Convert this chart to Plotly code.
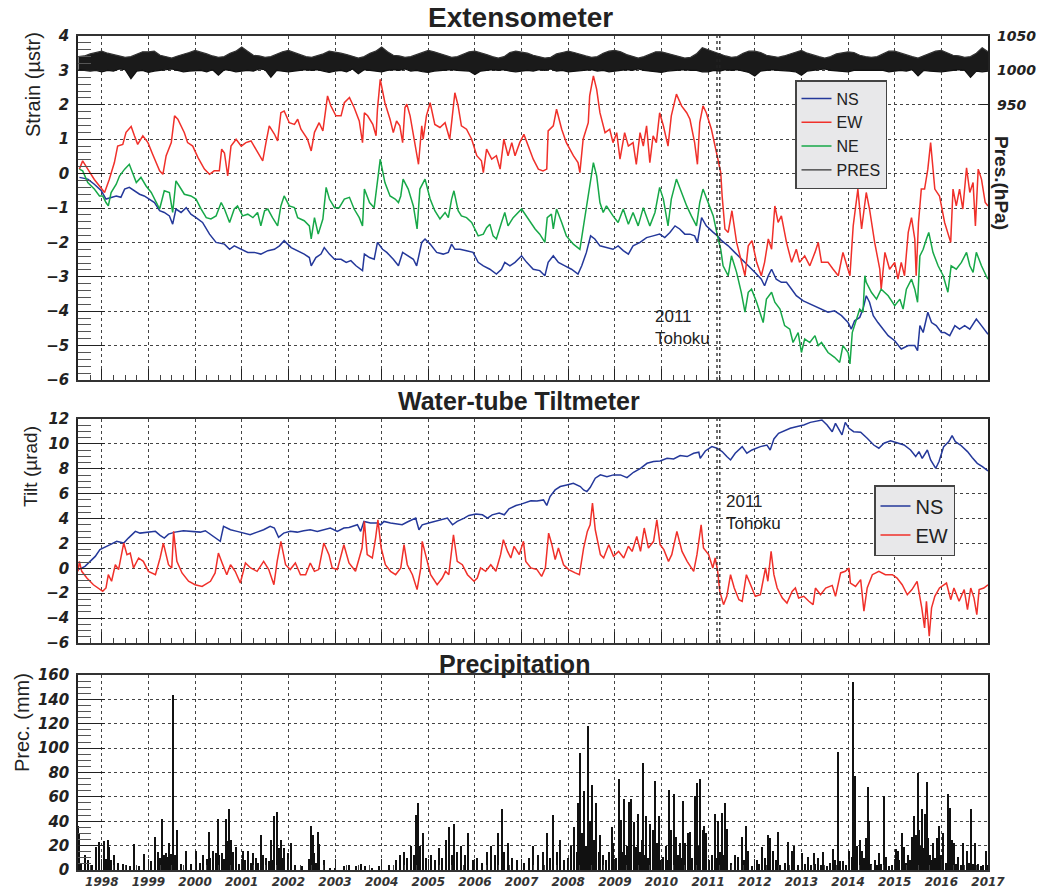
import plotly.graph_objects as go

# ---------------- data (decimal year, value) ----------------
EXT_NS = [(1997.52,-0.11),(1997.70,-0.16),(1997.84,-0.31),(1997.99,-0.50),(1998.09,-0.74),(1998.20,-0.69),
(1998.31,-0.65),(1998.41,-0.69),(1998.49,-0.45),(1998.59,-0.40),(1998.70,-0.50),(1998.81,-0.60),(1998.91,-0.65),
(1999.02,-0.74),(1999.13,-0.84),(1999.24,-1.08),(1999.34,-1.13),(1999.45,-1.23),(1999.52,-1.47),(1999.59,-1.03),
(1999.70,-1.13),(1999.81,-0.99),(1999.91,-1.18),(2000.02,-1.28),(2000.16,-1.42),(2000.31,-1.76),(2000.45,-2.00),
(2000.63,-2.05),(2000.74,-2.20),(2000.84,-2.10),(2000.99,-2.20),(2001.13,-2.29),(2001.27,-2.29),(2001.41,-2.34),
(2001.56,-2.24),(2001.70,-2.20),(2001.81,-2.10),(2001.91,-1.95),(2002.06,-2.15),(2002.20,-2.24),(2002.34,-2.34),
(2002.45,-2.44),(2002.49,-2.68),(2002.59,-2.44),(2002.70,-2.34),(2002.77,-2.15),(2002.88,-2.34),(2002.99,-2.49),
(2003.13,-2.49),(2003.24,-2.58),(2003.34,-2.53),(2003.45,-2.68),(2003.59,-2.82),(2003.63,-2.34),(2003.74,-2.44),
(2003.84,-2.49),(2003.91,-2.00),(2004.02,-2.20),(2004.11,-2.29),(2004.25,-2.49),(2004.36,-2.68),(2004.45,-2.29),
(2004.57,-2.39),(2004.68,-2.49),(2004.75,-2.68),(2004.86,-2.00),(2004.93,-1.90),(2005.04,-2.05),(2005.18,-2.29),
(2005.32,-2.34),(2005.43,-2.29),(2005.50,-2.05),(2005.57,-2.20),(2005.68,-2.20),(2005.82,-2.24),(2005.96,-2.29),
(2006.07,-2.58),(2006.18,-2.68),(2006.32,-2.78),(2006.46,-2.92),(2006.57,-2.78),(2006.64,-2.58),(2006.75,-2.68),
(2006.86,-2.58),(2007.00,-2.39),(2007.11,-2.58),(2007.25,-2.78),(2007.39,-2.82),(2007.50,-2.97),(2007.57,-2.58),
(2007.68,-2.39),(2007.79,-2.58),(2007.93,-2.68),(2008.07,-2.78),(2008.21,-2.92),(2008.29,-2.68),(2008.39,-2.29),
(2008.48,-1.81),(2008.57,-1.90),(2008.68,-2.10),(2008.82,-2.15),(2008.96,-2.20),(2009.07,-2.10),(2009.18,-2.24),
(2009.29,-2.34),(2009.39,-2.10),(2009.54,-2.00),(2009.68,-1.86),(2009.82,-1.81),(2009.96,-1.76),(2010.07,-1.86),
(2010.18,-1.71),(2010.29,-1.52),(2010.39,-1.61),(2010.50,-1.76),(2010.61,-1.76),(2010.71,-1.81),(2010.77,-2.00),
(2010.86,-1.28),(2010.96,-1.52),(2011.11,-1.71),(2011.20,-1.81),(2011.29,-1.95),(2011.43,-2.10),(2011.57,-2.29),
(2011.71,-2.49),(2011.86,-2.68),(2012.00,-2.87),(2012.14,-3.07),(2012.21,-3.26),(2012.29,-2.97),(2012.36,-2.78),
(2012.46,-3.07),(2012.57,-3.16),(2012.68,-3.16),(2012.79,-3.36),(2012.89,-3.55),(2013.04,-3.70),(2013.18,-3.79),
(2013.29,-3.84),(2013.43,-3.94),(2013.57,-4.03),(2013.71,-3.99),(2013.86,-4.13),(2014.00,-4.33),(2014.07,-4.52),
(2014.14,-4.28),(2014.25,-4.18),(2014.32,-3.94),(2014.39,-3.55),(2014.46,-3.74),(2014.54,-4.13),(2014.64,-4.33),
(2014.75,-4.52),(2014.86,-4.71),(2015.00,-4.86),(2015.14,-5.10),(2015.29,-5.00),(2015.43,-5.00),(2015.49,-5.15),
(2015.54,-4.42),(2015.61,-4.62),(2015.71,-4.03),(2015.79,-4.33),(2015.89,-4.42),(2016.00,-4.62),(2016.07,-4.62),
(2016.18,-4.71),(2016.29,-4.42),(2016.39,-4.52),(2016.50,-4.42),(2016.61,-4.52),(2016.75,-4.23),(2016.86,-4.42),
(2016.96,-4.62),(2017.00,-4.67)]

EXT_EW = [(1997.52,0.13),(1997.59,0.37),(1997.70,0.13),(1997.84,-0.17),(1997.95,-0.36),(1998.06,-0.55),(1998.16,-0.17),
(1998.27,0.32),(1998.34,0.80),(1998.45,0.85),(1998.52,1.20),(1998.63,1.37),(1998.70,1.10),(1998.77,0.85),(1998.88,1.10),
(1998.99,0.90),(1999.09,0.56),(1999.24,0.08),(1999.31,-0.02),(1999.38,0.52),(1999.49,0.90),(1999.56,1.68),(1999.63,1.58),
(1999.77,1.19),(1999.84,0.90),(1999.95,0.80),(2000.06,0.47),(2000.20,0.13),(2000.31,-0.02),(2000.41,0.08),(2000.52,0.08),
(2000.57,0.71),(2000.63,0.60),(2000.70,-0.07),(2000.77,0.80),(2000.88,1.00),(2000.99,0.80),(2001.09,0.90),(2001.20,0.95),
(2001.34,0.60),(2001.45,0.37),(2001.52,0.90),(2001.59,1.39),(2001.70,1.15),(2001.77,0.95),(2001.84,1.77),(2001.91,1.82),
(2002.02,1.48),(2002.13,1.43),(2002.20,1.58),(2002.27,1.29),(2002.41,1.00),(2002.49,0.66),(2002.56,1.20),(2002.66,1.48),
(2002.74,1.24),(2002.81,1.87),(2002.84,2.26),(2002.91,1.97),(2003.02,1.68),(2003.13,1.68),(2003.20,2.06),(2003.31,2.21),
(2003.41,1.92),(2003.52,1.53),(2003.59,0.90),(2003.63,1.77),(2003.70,1.68),(2003.81,1.43),(2003.88,1.10),(2003.91,1.87),
(2003.97,2.74),(2004.07,2.06),(2004.18,1.58),(2004.25,1.19),(2004.32,1.53),(2004.39,1.39),(2004.45,0.90),(2004.50,1.92),
(2004.54,2.02),(2004.61,1.68),(2004.71,0.90),(2004.79,0.27),(2004.86,1.39),(2004.89,1.00),(2004.96,1.68),(2005.04,2.06),
(2005.14,1.43),(2005.25,1.34),(2005.36,1.48),(2005.46,1.00),(2005.50,1.48),(2005.57,2.35),(2005.64,1.97),(2005.71,1.39),
(2005.82,1.29),(2005.93,1.00),(2006.04,0.52),(2006.14,0.37),(2006.18,0.03),(2006.25,0.71),(2006.36,0.42),(2006.46,0.52),
(2006.54,0.13),(2006.62,1.00),(2006.71,0.52),(2006.79,0.90),(2006.86,0.52),(2006.96,0.90),(2007.05,1.14),(2007.14,0.80),
(2007.25,0.42),(2007.36,0.13),(2007.46,0.08),(2007.54,0.13),(2007.57,1.24),(2007.68,1.39),(2007.75,1.87),(2007.86,1.29),
(2007.96,0.90),(2008.11,0.52),(2008.21,0.32),(2008.25,0.03),(2008.32,1.00),(2008.43,1.48),(2008.46,2.26),(2008.54,2.84),
(2008.61,2.45),(2008.68,1.77),(2008.79,1.19),(2008.89,1.29),(2008.96,0.90),(2009.04,1.19),(2009.11,0.42),(2009.21,1.19),
(2009.29,0.80),(2009.39,0.90),(2009.46,0.27),(2009.54,1.19),(2009.61,0.80),(2009.68,1.39),(2009.75,0.32),(2009.82,1.10),
(2009.89,0.90),(2009.96,1.77),(2010.04,1.39),(2010.14,0.80),(2010.21,1.68),(2010.32,2.31),(2010.43,1.97),(2010.54,1.77),
(2010.61,1.58),(2010.71,0.90),(2010.77,0.27),(2010.82,1.48),(2010.89,1.97),(2010.96,1.77),(2011.07,1.29),(2011.18,0.60),
(2011.27,0.03),(2011.30,-0.65),(2011.36,-1.61),(2011.43,-1.71),(2011.51,-1.08),(2011.61,-2.00),(2011.71,-2.58),
(2011.79,-2.97),(2011.86,-2.10),(2011.94,-1.95),(2012.04,-2.58),(2012.14,-2.97),(2012.21,-2.58),(2012.29,-1.90),
(2012.36,-2.20),(2012.43,-0.94),(2012.50,-1.42),(2012.57,-1.23),(2012.68,-2.00),(2012.79,-2.58),(2012.89,-2.20),
(2012.96,-2.58),(2013.07,-2.39),(2013.18,-2.68),(2013.29,-2.29),(2013.36,-2.00),(2013.43,-2.58),(2013.57,-2.58),
(2013.68,-2.78),(2013.79,-2.97),(2013.89,-2.29),(2014.00,-2.78),(2014.04,-2.97),(2014.11,-1.52),(2014.18,-0.65),
(2014.21,-0.45),(2014.29,-1.61),(2014.39,-0.55),(2014.46,-1.03),(2014.57,-2.00),(2014.68,-2.78),(2014.71,-3.36),
(2014.79,-2.29),(2014.89,-2.78),(2015.00,-2.58),(2015.07,-3.07),(2015.14,-2.58),(2015.21,-2.97),(2015.29,-1.71),
(2015.36,-1.28),(2015.43,-1.90),(2015.46,-2.97),(2015.51,-1.42),(2015.57,-0.45),(2015.64,-0.45),(2015.71,0.13),
(2015.77,0.90),(2015.86,-0.45),(2015.96,-0.65),(2016.07,-1.42),(2016.20,-2.00),(2016.25,-0.45),(2016.32,-0.94),
(2016.39,-0.45),(2016.46,-1.03),(2016.54,0.17),(2016.61,-0.55),(2016.68,-0.26),(2016.73,-1.52),(2016.79,0.13),
(2016.86,-0.16),(2016.94,-0.84),(2017.00,-0.94)]

EXT_NE = [(1997.52,0.13),(1997.59,0.08),(1997.70,-0.26),(1997.84,-0.45),(1997.95,-0.65),(1998.02,-0.65),(1998.09,-0.84),
(1998.14,-0.94),(1998.20,-0.55),(1998.31,-0.31),(1998.38,-0.07),(1998.49,0.13),(1998.59,0.27),(1998.66,0.03),(1998.74,-0.26),
(1998.84,-0.11),(1998.95,-0.36),(1999.06,-0.55),(1999.16,-0.84),(1999.24,-1.03),(1999.34,-0.50),(1999.45,-0.55),
(1999.52,-1.13),(1999.59,-0.21),(1999.66,-0.36),(1999.77,-0.60),(1999.91,-0.65),(2000.02,-0.74),(2000.13,-1.03),
(2000.24,-1.28),(2000.34,-1.32),(2000.45,-1.23),(2000.56,-0.84),(2000.63,-1.03),(2000.74,-1.42),(2000.84,-1.03),
(2000.91,-0.94),(2001.02,-1.23),(2001.13,-1.18),(2001.24,-1.28),(2001.34,-1.13),(2001.41,-1.52),(2001.49,-1.08),
(2001.56,-1.03),(2001.66,-1.28),(2001.77,-1.52),(2001.84,-0.94),(2001.91,-0.65),(2002.02,-0.94),(2002.13,-0.99),
(2002.20,-1.28),(2002.34,-1.37),(2002.45,-1.52),(2002.49,-1.90),(2002.56,-1.28),(2002.64,-1.76),(2002.74,-1.32),
(2002.81,-0.40),(2002.88,-0.74),(2002.99,-0.99),(2003.09,-0.99),(2003.20,-0.74),(2003.31,-0.69),(2003.41,-1.03),
(2003.52,-1.28),(2003.59,-1.52),(2003.63,-0.45),(2003.74,-0.84),(2003.84,-0.99),(2003.91,-0.26),(2003.97,0.42),
(2004.07,-0.26),(2004.18,-0.65),(2004.29,-0.74),(2004.36,-0.84),(2004.41,-0.65),(2004.46,-0.16),(2004.57,-0.45),
(2004.68,-0.94),(2004.76,-1.61),(2004.82,-0.45),(2004.93,-0.16),(2005.04,-0.74),(2005.14,-1.08),(2005.25,-1.32),
(2005.36,-1.13),(2005.43,-1.28),(2005.50,-0.74),(2005.55,-0.50),(2005.64,-1.08),(2005.71,-1.23),(2005.82,-1.28),
(2005.93,-1.42),(2006.07,-1.81),(2006.18,-1.76),(2006.25,-1.57),(2006.32,-1.47),(2006.39,-1.81),(2006.46,-1.90),
(2006.57,-1.42),(2006.64,-1.13),(2006.71,-1.52),(2006.82,-1.28),(2007.00,-1.03),(2007.14,-1.32),(2007.29,-1.61),
(2007.39,-1.76),(2007.50,-2.00),(2007.55,-1.28),(2007.64,-1.18),(2007.68,-1.61),(2007.75,-1.03),(2007.86,-1.42),
(2007.96,-1.81),(2008.11,-2.05),(2008.25,-2.20),(2008.34,-1.42),(2008.43,-0.65),(2008.48,-0.26),(2008.54,0.32),
(2008.61,-0.07),(2008.68,-0.84),(2008.75,-1.13),(2008.82,-0.94),(2008.96,-1.23),(2009.07,-1.42),(2009.18,-1.03),
(2009.29,-1.47),(2009.39,-1.13),(2009.50,-1.52),(2009.61,-0.99),(2009.68,-1.23),(2009.75,-1.52),(2009.86,-1.13),
(2009.96,-0.40),(2010.04,-0.74),(2010.14,-1.52),(2010.21,-0.74),(2010.32,-0.16),(2010.43,-0.55),(2010.54,-0.94),
(2010.64,-1.23),(2010.75,-1.52),(2010.82,-0.84),(2010.89,-0.45),(2011.00,-0.84),(2011.11,-1.23),(2011.20,-1.81),
(2011.27,-2.20),(2011.32,-2.68),(2011.43,-2.97),(2011.50,-2.39),(2011.61,-2.87),(2011.71,-3.45),(2011.79,-4.03),
(2011.86,-3.45),(2011.93,-3.36),(2012.04,-3.74),(2012.18,-4.33),(2012.25,-3.65),(2012.36,-3.45),(2012.43,-3.74),
(2012.54,-3.94),(2012.64,-4.42),(2012.75,-4.52),(2012.82,-4.91),(2012.93,-4.62),(2013.00,-5.20),(2013.07,-4.81),
(2013.18,-4.91),(2013.29,-4.71),(2013.36,-5.00),(2013.43,-4.91),(2013.57,-5.20),(2013.71,-5.34),(2013.82,-5.49),
(2013.89,-5.00),(2014.00,-5.20),(2014.04,-5.53),(2014.09,-4.62),(2014.14,-4.42),(2014.25,-3.94),(2014.32,-4.03),
(2014.36,-2.97),(2014.39,-3.16),(2014.50,-3.45),(2014.61,-3.65),(2014.71,-3.36),(2014.86,-3.55),(2015.00,-3.84),
(2015.11,-3.65),(2015.18,-3.94),(2015.25,-3.36),(2015.36,-3.07),(2015.43,-3.36),(2015.49,-3.74),(2015.54,-2.39),
(2015.61,-2.20),(2015.68,-1.90),(2015.73,-1.71),(2015.82,-2.29),(2015.93,-2.68),(2016.04,-2.97),(2016.14,-3.45),
(2016.21,-2.68),(2016.32,-2.78),(2016.43,-2.58),(2016.54,-2.29),(2016.61,-2.68),(2016.68,-2.87),(2016.75,-2.29),
(2016.86,-2.68),(2016.96,-2.97),(2017.00,-3.07)]

# atmospheric pressure (hPa): upper and lower edge of the daily trace, every 1/8 year from 1997.5
PRES_T = [1997.5,1997.625,1997.75,1997.875] + [y + k/8 for y in range(1998, 2017) for k in range(8)] + [2017.0]
PRES_HI = [1020,1021,1024,1026,
1028,1025,1023,1021,1019,1020,1024,1027, 1027,1028,1022,1020,1018,1021,1023,1026,
1029,1027,1024,1021,1019,1020,1025,1028, 1034,1028,1022,1021,1019,1020,1024,1027,
1029,1026,1023,1020,1019,1021,1024,1028, 1027,1025,1023,1020,1018,1020,1025,1028,
1034,1027,1022,1021,1019,1020,1023,1026, 1029,1027,1024,1021,1019,1020,1024,1027,
1028,1026,1023,1020,1018,1020,1026,1028, 1027,1025,1022,1020,1018,1019,1024,1026,
1028,1026,1023,1021,1019,1020,1025,1028, 1029,1027,1023,1020,1018,1020,1024,1027,
1027,1025,1022,1020,1018,1019,1024,1033, 1030,1027,1023,1021,1019,1020,1025,1028,
1028,1026,1022,1020,1019,1021,1024,1027, 1029,1025,1022,1020,1018,1020,1024,1026,
1027,1026,1022,1020,1019,1020,1024,1028, 1028,1025,1022,1020,1018,1021,1025,1028,
1029,1026,1022,1021,1019,1020,1025,1033, 1027]
PRES_LO = [1001,1000,999,1000,
998,1000,999,1002,1001,988,999,1000, 997,999,1000,1001,1002,1000,998,999,
999,1000,998,1001,993,1001,1000,998, 999,1000,999,1002,1001,990,1000,999,
998,999,1000,1001,1000,1001,999,997, 999,1000,998,1002,995,1001,1000,999,
998,1000,1001,1000,1002,999,1000,998, 997,999,1000,1001,1001,1000,999,999,
994,999,1000,1001,1000,1001,999,998, 999,1000,999,1001,1000,1002,999,1000,
998,999,1000,1001,1001,999,1000,998, 999,1000,1001,1000,1002,1000,999,999,
997,999,1000,1001,1001,1000,1000,998, 998,1000,999,1001,1000,1001,999,997,
992,999,1000,1001,1000,1000,999,998, 993,999,1000,1001,1002,1000,999,999,
998,1000,1000,1001,1000,1001,1000,998, 999,1000,999,1001,992,1000,999,998,
998,999,1000,1001,1000,990,999,998, 999]

TILT_NS = [(1997.50,-0.10),(1997.57,0.03),(1997.64,0.16),(1997.75,0.56),(1997.86,0.96),(1997.96,1.50),(1998.04,1.63),
(1998.18,1.90),(1998.32,2.17),(1998.47,2.03),(1998.57,2.43),(1998.72,2.97),(1998.82,2.83),(1998.97,2.91),(1999.15,2.97),
(1999.25,2.65),(1999.34,2.43),(1999.43,2.75),(1999.57,2.91),(1999.75,3.02),(1999.93,2.97),(2000.11,2.91),(2000.22,3.02),
(2000.40,2.56),(2000.48,2.30),(2000.54,2.17),(2000.61,3.37),(2000.76,3.10),(2000.90,2.97),(2001.04,2.83),(2001.18,2.70),
(2001.33,2.91),(2001.47,3.10),(2001.61,3.37),(2001.70,3.24),(2001.79,2.49),(2001.90,2.83),(2002.04,2.97),(2002.19,2.91),
(2002.33,3.02),(2002.47,3.10),(2002.62,2.97),(2002.76,3.10),(2002.90,3.24),(2003.05,2.97),(2003.19,3.24),(2003.30,3.29),
(2003.48,3.50),(2003.55,2.97),(2003.62,3.77),(2003.76,3.64),(2003.90,3.64),(2003.98,3.50),(2004.05,3.77),(2004.19,3.64),
(2004.34,3.56),(2004.44,3.50),(2004.55,3.72),(2004.66,3.90),(2004.73,4.04),(2004.80,3.10),(2004.87,3.50),(2005.01,3.64),
(2005.15,3.77),(2005.27,3.90),(2005.41,4.04),(2005.52,3.50),(2005.62,3.77),(2005.77,4.04),(2005.87,4.25),(2006.02,4.36),
(2006.16,4.30),(2006.27,4.04),(2006.37,4.30),(2006.52,4.44),(2006.63,4.30),(2006.73,4.78),(2006.88,5.05),(2006.99,5.16),
(2007.10,5.32),(2007.20,5.43),(2007.33,5.42),(2007.47,5.50),(2007.54,5.05),(2007.61,5.77),(2007.72,6.30),(2007.83,6.57),
(2007.97,6.70),(2008.11,6.84),(2008.26,6.57),(2008.33,6.30),(2008.40,6.17),(2008.47,6.49),(2008.58,7.24),(2008.69,7.51),
(2008.83,7.37),(2008.97,7.51),(2009.12,7.51),(2009.26,7.29),(2009.40,7.72),(2009.55,8.04),(2009.69,8.44),(2009.83,8.58),
(2009.97,8.63),(2010.12,8.84),(2010.26,8.79),(2010.40,9.06),(2010.55,8.98),(2010.69,9.25),(2010.80,9.33),(2010.83,8.84),
(2010.94,9.43),(2011.08,9.78),(2011.19,9.65),(2011.30,9.38),(2011.40,8.98),(2011.48,8.71),(2011.58,9.25),(2011.73,9.78),
(2011.83,9.25),(2011.94,9.51),(2012.12,9.78),(2012.26,9.91),(2012.33,9.51),(2012.41,10.40),(2012.51,10.85),(2012.66,11.12),
(2012.76,11.25),(2012.91,11.39),(2013.05,11.52),(2013.19,11.73),(2013.34,11.84),(2013.44,11.92),(2013.55,11.52),
(2013.66,10.98),(2013.73,11.65),(2013.80,11.12),(2013.87,10.72),(2013.94,11.73),(2014.02,11.25),(2014.12,10.98),
(2014.27,10.93),(2014.41,10.45),(2014.55,9.91),(2014.66,9.65),(2014.77,10.05),(2014.91,10.24),(2015.05,10.05),
(2015.20,9.91),(2015.34,9.51),(2015.45,8.98),(2015.52,9.38),(2015.59,8.84),(2015.70,9.51),(2015.77,8.71),(2015.88,8.04),
(2015.95,8.58),(2016.05,9.78),(2016.16,10.18),(2016.23,10.66),(2016.30,10.18),(2016.41,9.91),(2016.56,9.38),(2016.66,8.90),
(2016.77,8.44),(2016.88,8.18),(2017.00,7.83)]

TILT_EW = [(1997.49,-0.24),(1997.52,0.56),(1997.57,-0.24),(1997.68,-0.78),(1997.82,-1.32),(1997.93,-1.58),(1998.02,-1.85),
(1998.09,-1.58),(1998.14,-0.51),(1998.21,-1.04),(1998.29,0.29),(1998.36,-0.10),(1998.47,2.03),(1998.54,1.10),(1998.61,1.23),
(1998.68,0.03),(1998.79,0.83),(1998.89,0.56),(1999.00,-0.24),(1999.15,-0.51),(1999.25,0.83),(1999.32,2.03),(1999.43,0.29),
(1999.50,0.03),(1999.54,2.97),(1999.61,0.56),(1999.72,-0.37),(1999.86,-1.04),(2000.00,-1.32),(2000.15,-1.45),(2000.33,-1.04),
(2000.43,-0.37),(2000.50,1.23),(2000.58,0.43),(2000.68,-0.51),(2000.76,0.29),(2000.86,-0.24),(2000.97,-1.18),(2001.08,0.43),
(2001.19,0.03),(2001.33,-0.24),(2001.47,0.56),(2001.58,-0.10),(2001.69,-1.32),(2001.76,0.56),(2001.84,2.17),(2001.94,0.29),
(2002.04,-0.10),(2002.15,0.43),(2002.26,-0.51),(2002.37,-0.51),(2002.47,0.43),(2002.56,-0.24),(2002.65,-0.10),(2002.76,2.03),
(2002.87,1.10),(2002.94,0.03),(2003.05,-0.10),(2003.19,1.90),(2003.30,0.43),(2003.44,-0.24),(2003.58,1.63),(2003.63,3.77),
(2003.69,1.10),(2003.80,0.83),(2003.87,2.43),(2003.92,3.90),(2003.99,1.63),(2004.08,0.29),(2004.19,-0.24),(2004.30,-0.51),
(2004.41,0.03),(2004.48,1.90),(2004.55,0.29),(2004.66,-0.51),(2004.76,-1.71),(2004.84,0.03),(2004.87,2.17),(2004.94,1.10),
(2005.05,-0.51),(2005.19,-1.32),(2005.30,-0.78),(2005.37,-0.24),(2005.44,-0.51),(2005.54,2.70),(2005.62,0.56),(2005.73,0.29),
(2005.84,-0.51),(2005.98,-1.04),(2006.05,-0.78),(2006.12,0.03),(2006.23,-0.24),(2006.34,0.29),(2006.45,-0.24),(2006.55,1.10),
(2006.61,2.30),(2006.70,1.36),(2006.77,0.83),(2006.84,1.77),(2006.95,1.10),(2007.04,2.17),(2007.09,0.56),(2007.20,0.03),
(2007.33,-0.10),(2007.43,-0.65),(2007.51,0.03),(2007.58,2.83),(2007.65,1.90),(2007.72,0.70),(2007.79,1.63),(2007.90,0.29),
(2008.01,-0.10),(2008.15,-0.37),(2008.24,-0.51),(2008.33,1.63),(2008.41,2.97),(2008.47,3.50),(2008.52,5.24),(2008.58,3.10),
(2008.69,1.10),(2008.76,0.83),(2008.87,1.90),(2008.97,0.97),(2009.08,1.36),(2009.19,0.83),(2009.29,1.77),(2009.37,1.36),
(2009.47,2.56),(2009.55,1.36),(2009.63,3.24),(2009.72,1.63),(2009.83,2.17),(2009.90,3.90),(2009.97,1.90),(2010.05,1.50),
(2010.15,0.56),(2010.22,1.10),(2010.33,2.97),(2010.44,1.36),(2010.55,0.56),(2010.69,-0.24),(2010.76,1.10),(2010.85,3.50),
(2010.90,1.63),(2011.01,1.10),(2011.10,0.03),(2011.15,0.83),(2011.20,-0.10),(2011.25,-1.85),(2011.33,-2.92),(2011.40,-2.25),
(2011.48,-0.51),(2011.56,-1.58),(2011.66,-2.52),(2011.73,-2.65),(2011.82,-0.51),(2011.91,-1.32),(2012.01,-2.25),
(2012.12,-2.12),(2012.23,0.03),(2012.28,-1.04),(2012.35,1.36),(2012.41,-0.51),(2012.48,-1.58),(2012.59,-2.39),
(2012.69,-2.79),(2012.80,-1.85),(2012.87,-1.58),(2012.94,-2.39),(2013.05,-2.25),(2013.16,-2.65),(2013.25,-2.92),
(2013.30,-1.58),(2013.41,-2.12),(2013.52,-1.58),(2013.66,-1.37),(2013.73,-2.25),(2013.84,-0.37),(2013.94,-0.24),
(2014.02,0.03),(2014.05,-1.18),(2014.16,-1.45),(2014.27,-0.91),(2014.34,-3.45),(2014.41,-1.58),(2014.52,-0.51),
(2014.66,-0.24),(2014.80,-0.51),(2014.95,-0.51),(2015.05,-0.78),(2015.16,-1.32),(2015.27,-2.12),(2015.37,-1.71),
(2015.48,-1.04),(2015.58,-3.18),(2015.64,-4.79),(2015.68,-2.65),(2015.74,-5.46),(2015.79,-3.18),(2015.86,-2.25),
(2015.96,-1.58),(2016.11,-1.18),(2016.20,-2.52),(2016.27,-1.58),(2016.38,-2.65),(2016.49,-1.71),(2016.56,-3.32),
(2016.63,-1.58),(2016.70,-2.39),(2016.76,-3.72),(2016.81,-1.71),(2016.91,-1.58),(2017.00,-1.32)]

# daily precipitation (mm)
PREC = [(1997.50,36),(1997.52,30),(1997.56,6),(1997.63,12),(1997.70,8),(1997.80,4),(1997.88,19),(1997.95,23),
(1998.04,24),(1998.10,9),(1998.13,25),(1998.16,19),(1998.20,8),(1998.27,12),(1998.35,6),(1998.45,5),(1998.52,4),
(1998.60,3),(1998.70,21),(1998.80,3),(1998.91,13),(1999.06,7),(1999.15,27),(1999.20,15),(1999.25,10),(1999.29,42),
(1999.33,12),(1999.38,14),(1999.42,11),(1999.45,22),(1999.48,13),(1999.52,144),(1999.56,12),(1999.61,33),(1999.70,5),
(1999.81,16),(1999.91,5),(2000.02,16),(2000.10,6),(2000.16,12),(2000.25,9),(2000.29,31),(2000.33,10),(2000.38,16),
(2000.45,14),(2000.49,42),(2000.52,12),(2000.58,14),(2000.63,9),(2000.66,42),(2000.70,24),(2000.72,50),(2000.75,22),
(2000.77,25),(2000.82,15),(2000.88,19),(2000.95,5),(2001.02,16),(2001.08,8),(2001.13,16),(2001.20,6),(2001.24,14),
(2001.30,10),(2001.36,6),(2001.41,29),(2001.45,12),(2001.52,10),(2001.58,7),(2001.63,25),(2001.66,8),(2001.70,44),
(2001.76,48),(2001.80,18),(2001.84,25),(2001.88,10),(2001.91,18),(2002.00,14),(2002.06,22),(2002.15,4),(2002.30,3),
(2002.45,9),(2002.49,36),(2002.52,29),(2002.55,14),(2002.60,6),(2002.63,31),(2002.66,21),(2002.77,8),(2002.90,2),
(2003.00,2),(2003.20,3),(2003.30,4),(2003.45,3),(2003.55,5),(2003.65,3),(2003.80,2),(2003.95,3),(2004.15,4),
(2004.30,8),(2004.40,12),(2004.48,15),(2004.55,10),(2004.62,20),(2004.70,12),(2004.74,45),(2004.78,55),(2004.82,20),
(2004.88,30),(2004.95,10),(2005.05,12),(2005.15,8),(2005.22,18),(2005.30,10),(2005.38,25),(2005.45,35),(2005.50,12),
(2005.56,38),(2005.62,15),(2005.70,20),(2005.78,12),(2005.86,30),(2005.95,8),(2006.05,10),(2006.15,6),(2006.25,15),
(2006.35,20),(2006.42,12),(2006.50,30),(2006.58,50),(2006.63,15),(2006.70,22),(2006.80,10),(2006.90,8),(2007.05,6),
(2007.15,10),(2007.25,20),(2007.35,12),(2007.45,15),(2007.55,30),(2007.62,10),(2007.68,45),(2007.75,15),(2007.82,25),
(2007.90,8),(2008.00,10),(2008.05,20),(2008.12,35),(2008.18,15),(2008.22,55),(2008.26,96),(2008.30,30),(2008.34,65),
(2008.38,20),(2008.43,118),(2008.47,40),(2008.52,70),(2008.56,25),(2008.60,55),(2008.65,15),(2008.69,29),(2008.75,12),
(2008.82,8),(2008.88,15),(2008.94,35),(2008.97,22),(2009.03,10),(2009.08,75),(2009.13,41),(2009.16,15),(2009.19,58),
(2009.24,12),(2009.27,20),(2009.30,56),(2009.35,58),(2009.40,39),(2009.43,10),(2009.46,19),(2009.49,46),(2009.53,15),
(2009.58,25),(2009.61,88),(2009.64,12),(2009.67,44),(2009.71,10),(2009.76,38),(2009.81,33),(2009.86,73),(2009.91,22),
(2009.94,44),(2009.98,8),(2010.04,11),(2010.09,20),(2010.13,8),(2010.16,66),(2010.21,33),(2010.26,62),(2010.31,27),
(2010.35,12),(2010.39,22),(2010.43,10),(2010.46,57),(2010.51,22),(2010.56,30),(2010.61,31),(2010.66,10),(2010.72,61),
(2010.77,71),(2010.80,20),(2010.83,75),(2010.89,33),(2010.92,36),(2010.96,30),(2011.02,8),(2011.08,12),(2011.14,46),
(2011.18,10),(2011.22,40),(2011.26,15),(2011.29,47),(2011.33,12),(2011.36,55),(2011.41,34),(2011.48,6),(2011.58,12),
(2011.64,11),(2011.72,27),(2011.76,8),(2011.81,36),(2011.86,16),(2011.95,3),(2012.04,8),(2012.10,5),(2012.15,19),
(2012.22,10),(2012.28,29),(2012.33,26),(2012.40,16),(2012.45,8),(2012.49,31),(2012.55,4),(2012.65,6),(2012.72,23),
(2012.79,16),(2012.85,20),(2012.92,4),(2013.01,14),(2013.08,5),(2013.15,11),(2013.20,4),(2013.26,14),(2013.30,5),
(2013.36,10),(2013.42,4),(2013.47,15),(2013.55,3),(2013.62,6),(2013.67,17),(2013.72,8),(2013.79,97),(2013.83,7),
(2013.90,7),(2013.96,4),(2014.03,16),(2014.08,11),(2014.11,154),(2014.14,77),(2014.17,8),(2014.20,20),(2014.26,25),
(2014.30,16),(2014.35,10),(2014.39,26),(2014.42,68),(2014.44,40),(2014.50,5),(2014.58,8),(2014.62,4),(2014.66,14),
(2014.70,5),(2014.76,61),(2014.81,11),(2014.88,3),(2014.95,4),(2015.02,17),(2015.06,16),(2015.10,8),(2015.15,30),
(2015.20,19),(2015.25,6),(2015.29,12),(2015.33,8),(2015.38,27),(2015.41,44),(2015.46,29),(2015.49,15),(2015.51,80),
(2015.53,33),(2015.56,20),(2015.58,50),(2015.61,18),(2015.64,46),(2015.66,15),(2015.69,72),(2015.72,26),(2015.76,12),
(2015.80,8),(2015.83,22),(2015.87,10),(2015.90,26),(2015.93,8),(2015.96,36),(2016.00,12),(2016.04,30),(2016.09,6),
(2016.14,62),(2016.19,51),(2016.22,25),(2016.27,22),(2016.31,5),(2016.36,11),(2016.42,4),(2016.47,22),(2016.54,16),
(2016.59,6),(2016.64,50),(2016.67,5),(2016.72,22),(2016.79,5),(2016.85,3),(2016.90,4),(2016.95,16),(2016.99,4)]

YEARS = list(range(1998, 2018))
YEAR_LABELS = [str(y) for y in YEARS]

# ---------------- styling ----------------
C_NS, C_EW, C_NE = "#24389a", "#f0302a", "#17a848"
TICKFONT = dict(family="DejaVu Sans", size=15, color="#222", weight="bold", style="italic")
XR = [1997.49, 2017.0]
XD = [78/1041, 988/1041]
def pdom(top, bot):
    return [1 - bot/889, 1 - top/889]

def sx(pairs):
    return [p[0] for p in pairs]
def sy(pairs):
    return [p[1] for p in pairs]

fig = go.Figure()
lw = 1.5
fig.add_trace(go.Scatter(x=sx(EXT_NS), y=sy(EXT_NS), mode="lines", line=dict(color=C_NS, width=lw),
                         name="NS", legend="legend", xaxis="x", yaxis="y"))
fig.add_trace(go.Scatter(x=sx(EXT_EW), y=sy(EXT_EW), mode="lines", line=dict(color=C_EW, width=lw),
                         name="EW", legend="legend", xaxis="x", yaxis="y"))
fig.add_trace(go.Scatter(x=sx(EXT_NE), y=sy(EXT_NE), mode="lines", line=dict(color=C_NE, width=lw),
                         name="NE", legend="legend", xaxis="x", yaxis="y"))
fig.add_trace(go.Scatter(x=PRES_T, y=PRES_HI, mode="lines", line=dict(color="#333", width=1.2),
                         name="PRES", legend="legend", xaxis="x", yaxis="y2"))
fig.add_trace(go.Scatter(x=PRES_T, y=PRES_LO, mode="lines", line=dict(color="#111", width=1.2),
                         fill="tonexty", fillcolor="#1a1a1a", showlegend=False, xaxis="x", yaxis="y2"))

fig.add_trace(go.Scatter(x=sx(TILT_NS), y=sy(TILT_NS), mode="lines", line=dict(color=C_NS, width=lw),
                         name="NS", legend="legend2", xaxis="x2", yaxis="y3"))
fig.add_trace(go.Scatter(x=sx(TILT_EW), y=sy(TILT_EW), mode="lines", line=dict(color=C_EW, width=lw),
                         name="EW", legend="legend2", xaxis="x2", yaxis="y3"))

fig.add_trace(go.Bar(x=sx(PREC), y=sy(PREC), width=0.022, marker=dict(color="#111", line=dict(width=0)),
                     showlegend=False, xaxis="x3", yaxis="y4"))

def xax(domain_anchor, labels):
    d = dict(domain=XD, anchor=domain_anchor, range=XR, tick0=1998, dtick=1, automargin=False,
             ticks="inside", ticklen=11, tickwidth=1, tickcolor="#222",
             showgrid=True, gridcolor="#444", griddash="dot", gridwidth=1,
             showline=True, linecolor="#333", linewidth=1.5, mirror=True, zeroline=False,
             minor=dict(ticks="inside", ticklen=5, dtick=0.25, tickcolor="#444", showgrid=False),
             showticklabels=labels)
    if labels:
        d.update(tickmode="array", tickvals=YEARS, ticktext=YEAR_LABELS,
                 tickfont=dict(family="DejaVu Sans", size=12, color="#333", weight="bold", style="italic"))
    return d

def yax(domain, rng, dt, mdt, anchor):
    return dict(domain=domain, anchor=anchor, range=rng, dtick=dt, tick0=0, automargin=False,
                ticks="inside", ticklen=27, tickwidth=1, tickcolor="#222",
                showgrid=True, gridcolor="#444", griddash="dot", gridwidth=1,
                showline=True, linecolor="#222", linewidth=1.5, mirror=True, zeroline=False,
                minor=dict(ticks="inside", ticklen=13, dtick=mdt, tickcolor="#555", showgrid=False),
                tickfont=TICKFONT, ticklabelstandoff=4)

fig.update_layout(
    width=1041, height=889, autosize=False,
    margin=dict(l=0, r=0, t=0, b=0, pad=0, autoexpand=False),
    paper_bgcolor="white", plot_bgcolor="white", showlegend=True, bargap=0,
    xaxis=xax("y", False),
    xaxis2=xax("y3", False),
    xaxis3=xax("y4", True),
    yaxis=yax(pdom(36, 380), [-6, 4], 1, 0.2, "x"),
    yaxis2=dict(overlaying="y", side="right", anchor="x", range=[550, 1050], automargin=False,
                tickmode="array", tickvals=[950, 1000, 1050], ticks="inside", ticklen=8,
                tickcolor="#222", showgrid=False, zeroline=False, tickfont=dict(TICKFONT, size=14),
                ticklabelstandoff=8),
    yaxis3=yax(pdom(419, 643), [-6, 12], 2, 0.5, "x2"),
    yaxis4=yax(pdom(675, 870), [0, 160], 20, 5, "x3"),
    legend=dict(x=795/1041, y=1-80/889, xanchor="left", yanchor="top", bgcolor="#e8e8ea",
                bordercolor="#444", borderwidth=1.5, font=dict(family="Liberation Sans", size=16, color="#222"),
                tracegroupgap=0, itemwidth=30, traceorder="normal"),
    legend2=dict(x=874/1041, y=1-485/889, xanchor="left", yanchor="top", bgcolor="#e8e8ea",
                 bordercolor="#444", borderwidth=1.5, font=dict(family="Liberation Sans", size=20, color="#222"),
                 tracegroupgap=0, itemwidth=30, traceorder="normal"),
)

# Tohoku earthquake markers (top and middle panels)
for xr, yr in (("x", "y domain"), ("x2", "y3 domain")):
    for xt in (2011.19, 2011.25):
        fig.add_shape(type="line", xref=xr, yref=yr, x0=xt, x1=xt, y0=0, y1=1,
                      line=dict(color="#222", width=1.3, dash="dot"))

def ann(text, x, y, size, bold=False, angle=0, xanchor="center", yanchor="middle", align="center", family="Liberation Sans"):
    fig.add_annotation(text=text, x=x/1041, y=1-y/889, xref="paper", yref="paper", showarrow=False,
                       textangle=angle, xanchor=xanchor, yanchor=yanchor, align=align,
                       font=dict(family=family, size=size, color="#222", weight="bold" if bold else "normal"))

ann("Extensometer", 520, 18, 28, bold=True)
ann("Water-tube Tiltmeter", 519, 401, 25, bold=True)
ann("Precipitation", 514, 664, 25, bold=True)
ann("Strain (µstr)", 33, 85, 20, angle=-90)
ann("Tilt (µrad)", 30, 467, 19, angle=-90)
ann("Prec. (mm)", 22, 723, 20, angle=-90)
ann("Pres.(hPa)", 1002, 183, 19, bold=True, angle=90)
ann("2011<br>Tohoku", 712, 327, 17, xanchor="right", align="left")
ann("2011<br>Tohoku", 724, 512, 17, xanchor="left", align="left")

fig.write_html("out.html", config={"displayModeBar": False},
               post_script="document.body.style.margin='0';document.body.style.padding='0';document.documentElement.style.overflow='hidden';")
